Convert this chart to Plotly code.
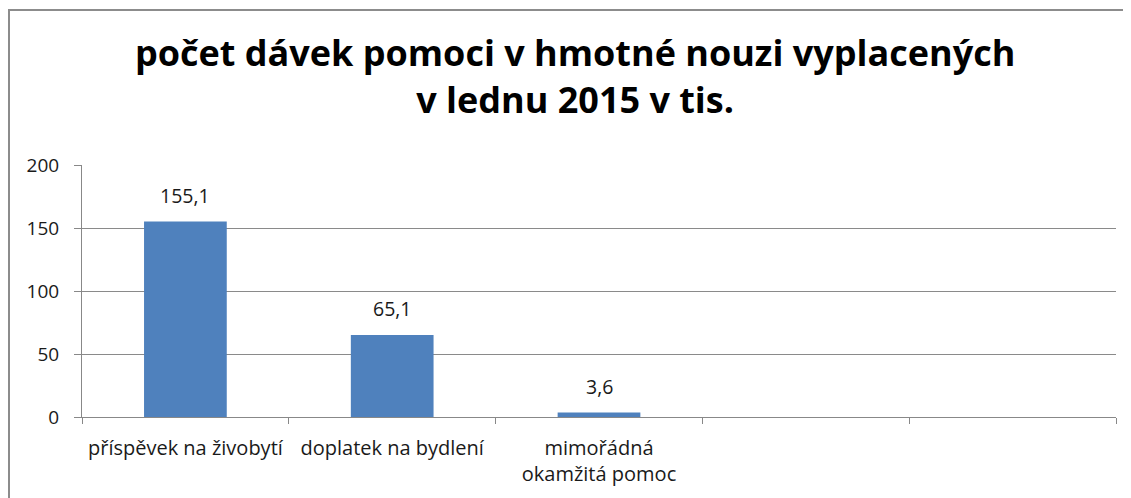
import plotly.graph_objects as go

categories = ["příspěvek na živobytí", "doplatek na bydlení", "mimořádná<br>okamžitá pomoc", " ", "  "]
values = [155.1, 65.1, 3.6, None, None]
value_labels = ["155,1", "65,1", "3,6"]
y_ticks = [0, 50, 100, 150, 200]
title_text = "počet dávek pomoci v hmotné nouzi vyplacených<br>v lednu 2015 v tis."

FONT = "Open Sans, Lato, sans-serif"
W, H = 1123, 490
L, R, T, B = 74, 15, 157, 81
pw, ph = W - L - R, H - T - B

def px_x(p):
    return (p - L) / pw

def px_y(p):
    return (H - B - p) / ph

fig = go.Figure()
fig.add_trace(go.Bar(
    x=categories, y=values,
    marker=dict(color="#4F81BD", line=dict(width=0)),
    width=0.4,
    hoverinfo="skip",
))

annotations = [
    dict(x=c, y=v, text=t, xref="x", yref="y", showarrow=False,
         yanchor="middle", yshift=26, font=dict(family=FONT, size=19.5, color="#1a1a1a"))
    for c, v, t in zip(categories, values, value_labels)
]

fig.update_layout(
    width=W, height=H,
    margin=dict(l=L, r=R, t=T, b=B),
    paper_bgcolor="white", plot_bgcolor="white",
    separators=", ",
    showlegend=False,
    font=dict(family=FONT, size=19, color="#1a1a1a"),
    title=dict(
        text=title_text, x=0.505, xanchor="center", xref="container",
        y=1 - 58 / H, yanchor="top", yref="container",
        font=dict(family=FONT, size=36, color="black", weight="bold"),
    ),
    xaxis=dict(
        type="category", tickson="boundaries", ticks="outside", ticklen=6,
        tickcolor="#888", showline=True, linecolor="#888", linewidth=1,
        showgrid=False, tickfont=dict(family=FONT, size=20, color="#1a1a1a"),
        ticklabelstandoff=13,
    ),
    yaxis=dict(
        range=[0, 200], tickvals=y_ticks, ticks="outside", ticklen=7,
        tickcolor="#888", showline=True, linecolor="#888", linewidth=1,
        showgrid=True, gridcolor="#8a8a8a", gridwidth=1, zeroline=False,
        tickfont=dict(family=FONT, size=19, color="#1a1a1a"), ticklabelstandoff=11,
    ),
    annotations=annotations,
    shapes=[
        dict(type="line", xref="paper", yref="paper", x0=px_x(0), x1=px_x(W), y0=px_y(2), y1=px_y(2),
             line=dict(color="#8c8c8c", width=2)),
        dict(type="line", xref="paper", yref="paper", x0=px_x(1), x1=px_x(1), y0=px_y(2), y1=px_y(H),
             line=dict(color="#8c8c8c", width=2)),
    ],
)

fig.write_html("out.html")
